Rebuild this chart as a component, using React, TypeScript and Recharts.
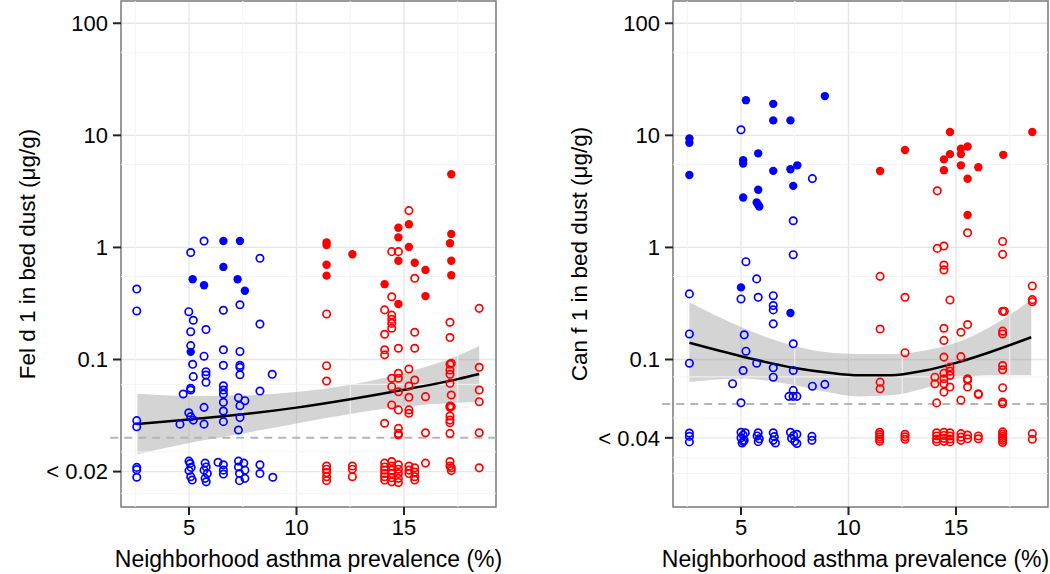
import React from 'react';
import {
  ComposedChart, Scatter, Line, Area,
  XAxis, YAxis, CartesianGrid, ReferenceLine, ReferenceArea, Label
} from 'recharts';

type Pt = [number, number];
type FitRow = [number, number, number, number]; // x, fit, lower, upper

const X_DOMAIN: [number, number] = [1.837, 19.28];
const Y_DOMAIN: [number, number] = [0.00483, 158];

const xTicks = [5, 10, 15];
const xMinor = [2.5, 7.5, 12.5, 17.5];
const xTitle = 'Neighborhood asthma prevalence (%)';

// ---- Fel d 1 panel ----
const felTicks = [0.01, 0.1, 1, 10, 100];
const felTickLabels = ['< 0.02', '0.1', '1', '10', '100'];
const felMinor = [55, 5.5, 0.55, 0.06, 0.015, 0.0064];
const felLimit = 0.02;

const felBlueOpen: Pt[] = [
  [2.57, 0.425], [2.57, 0.271], [2.57, 0.0285], [2.57, 0.0251],
  [5.7, 1.14], [5.08, 0.9], [8.3, 0.8],
  [4.99, 0.267], [5.2, 0.224], [5.08, 0.177], [5.79, 0.185], [6.6, 0.275], [7.37, 0.308], [8.3, 0.207],
  [5.08, 0.133], [5.7, 0.107], [5.17, 0.0906], [6.6, 0.122], [7.37, 0.118],
  [6.6, 0.0887], [7.37, 0.0887], [7.37, 0.0851], [7.37, 0.0731],
  [5.2, 0.0703], [5.79, 0.0778], [5.79, 0.0727], [5.79, 0.0626], [8.87, 0.0738],
  [5.08, 0.0553], [5.08, 0.0534], [4.73, 0.0492],
  [6.6, 0.0583], [6.6, 0.0534], [6.6, 0.0492], [6.6, 0.0415], [6.6, 0.0347], [6.6, 0.0279],
  [8.3, 0.0523], [7.3, 0.0456], [7.6, 0.0429], [7.37, 0.0387], [7.37, 0.0303], [7.3, 0.0235],
  [5.7, 0.0374], [5.7, 0.0265], [4.99, 0.0335], [5.08, 0.0309], [5.2, 0.0288], [4.58, 0.0265],
];
const felBlueLow: Pt[] = [
  [2.57, 0.0109], [2.57, 0.0104], [2.57, 0.0089],
  [5.0, 0.0124], [5.05, 0.0118], [5.1, 0.0109], [5.0, 0.0102], [5.08, 0.009], [5.15, 0.0084],
  [5.75, 0.0119], [5.8, 0.011], [5.7, 0.0103], [5.85, 0.0096], [5.75, 0.0087], [5.8, 0.0081],
  [6.35, 0.0121], [6.6, 0.0115], [6.6, 0.0103], [6.6, 0.0095],
  [7.3, 0.0124], [7.55, 0.0119], [7.3, 0.011], [7.6, 0.0103], [7.35, 0.0096], [7.6, 0.0087], [7.35, 0.0083],
  [8.3, 0.0115], [8.3, 0.0096], [8.9, 0.0089],
];
const felBlueFilled: Pt[] = [
  [6.6, 1.14], [7.37, 1.14], [6.6, 0.67], [5.17, 0.52], [5.7, 0.46], [7.26, 0.52], [7.6, 0.41], [5.08, 0.117],
];
const felRedOpen: Pt[] = [
  [11.4, 0.255], [11.4, 0.088], [11.4, 0.0643],
  [14.1, 0.277], [14.1, 0.168], [14.1, 0.122], [14.1, 0.11], [14.1, 0.027],
  [14.43, 0.917], [14.43, 0.363], [14.43, 0.249], [14.43, 0.228], [14.43, 0.21], [14.43, 0.19],
  [14.43, 0.068], [14.43, 0.0572], [14.43, 0.0393],
  [14.74, 0.917], [14.74, 0.126], [14.74, 0.0753], [14.74, 0.068], [14.74, 0.0516], [14.74, 0.0355],
  [14.74, 0.0243], [14.74, 0.0219], [14.74, 0.0212],
  [15.23, 2.13], [15.23, 0.0823], [15.23, 0.058], [15.23, 0.046], [15.23, 0.0355], [15.23, 0.0331],
  [15.5, 0.53], [15.5, 0.175], [15.5, 0.126], [15.5, 0.0656],
  [16.0, 0.0466], [16.0, 0.0222],
  [17.14, 0.215], [17.14, 0.157], [17.14, 0.0906], [17.14, 0.0805], [17.14, 0.0738], [17.14, 0.0612],
  [17.14, 0.0385], [17.14, 0.0374], [17.14, 0.0313], [17.14, 0.0288], [17.14, 0.0273], [17.14, 0.0219],
  [17.2, 0.0925], [17.2, 0.0482], [17.2, 0.038],
  [18.5, 0.286], [18.5, 0.0852], [18.5, 0.0534], [18.5, 0.042], [18.5, 0.0222],
];
const felRedLow: Pt[] = [
  [11.4, 0.0112], [11.4, 0.0105], [11.4, 0.0098], [11.4, 0.009], [11.4, 0.0083],
  [12.6, 0.0112], [12.6, 0.0105], [12.6, 0.009],
  [14.1, 0.0119], [14.1, 0.011], [14.1, 0.0103], [14.1, 0.0096], [14.1, 0.009], [14.1, 0.0084],
  [14.43, 0.0123], [14.43, 0.0112], [14.43, 0.0103], [14.43, 0.0096], [14.43, 0.0088], [14.43, 0.0081],
  [14.74, 0.0115], [14.74, 0.0105], [14.74, 0.0096], [14.74, 0.0087], [14.74, 0.008],
  [15.23, 0.0112], [15.23, 0.0103], [15.23, 0.0096],
  [15.5, 0.0108], [15.5, 0.0099], [15.5, 0.009], [15.5, 0.0084],
  [16.0, 0.0119],
  [17.14, 0.0123], [17.14, 0.0112], [17.2, 0.0108], [17.2, 0.0102],
  [18.5, 0.0108],
];
const felRedFilled: Pt[] = [
  [11.4, 1.11], [11.4, 1.05], [11.4, 0.7], [11.4, 0.56], [12.6, 0.87], [14.1, 0.47],
  [14.74, 1.5], [14.74, 1.23], [14.74, 0.76], [14.74, 0.313], [15.23, 1.61], [15.23, 1.01],
  [15.5, 0.73], [16.0, 0.63], [16.0, 0.368],
  [17.2, 4.5], [17.2, 1.32], [17.14, 1.09], [17.2, 0.76], [17.2, 0.564],
];
const felFit: FitRow[] = [
  [2.6, 0.0266, 0.0143, 0.0495],
  [5, 0.0292, 0.018, 0.0473],
  [7.5, 0.0324, 0.0219, 0.0479],
  [10, 0.0372, 0.0269, 0.0513],
  [12.5, 0.0442, 0.0327, 0.0596],
  [15, 0.0537, 0.038, 0.0759],
  [17.5, 0.0668, 0.0412, 0.108],
  [18.5, 0.0741, 0.0417, 0.132],
];

// ---- Can f 1 panel ----
const canTicks = [0.02, 0.1, 1, 10, 100];
const canTickLabels = ['< 0.04', '0.1', '1', '10', '100'];
const canMinor = [55, 5.5, 0.55, 0.07, 0.03, 0.0133, 0.0096];
const canLimit = 0.04;

const canBlueOpen: Pt[] = [
  [2.6, 0.385], [2.6, 0.169], [2.6, 0.0927], [4.61, 0.0608],
  [5.0, 11.2], [5.23, 0.746], [5.0, 0.347], [5.15, 0.166], [5.23, 0.1186], [5.1, 0.0798], [5.0, 0.0411],
  [5.73, 0.524], [5.8, 0.359], [5.73, 0.0927],
  [6.5, 0.371], [6.5, 0.303], [6.5, 0.277], [6.5, 0.208], [6.5, 0.0843], [6.5, 0.0695],
  [7.43, 1.73], [7.43, 0.861], [7.43, 0.138], [7.43, 0.0798], [7.43, 0.053],
  [7.23, 0.0469], [7.42, 0.0469], [7.6, 0.0469],
  [8.32, 4.11], [8.32, 0.0578], [8.9, 0.06],
];
const canBlueLow: Pt[] = [
  [2.6, 0.0221], [2.6, 0.0206], [2.6, 0.0184],
  [5.0, 0.0224], [5.1, 0.0212], [5.0, 0.02], [5.15, 0.019], [5.05, 0.018], [5.2, 0.0222], [5.1, 0.0186],
  [5.8, 0.0222], [5.75, 0.0208], [5.85, 0.0196], [5.8, 0.0185],
  [6.5, 0.0222], [6.55, 0.0205], [6.5, 0.019], [6.6, 0.018],
  [7.3, 0.0224], [7.45, 0.021], [7.35, 0.0198], [7.5, 0.0186], [7.6, 0.0178], [7.6, 0.0215],
  [8.3, 0.0206], [8.3, 0.019],
];
const canBlueFilled: Pt[] = [
  [2.6, 9.4], [2.6, 8.6], [2.6, 4.43], [5.23, 20.6], [5.1, 6.0], [5.1, 5.6], [5.1, 2.79], [5.0, 0.44],
  [5.8, 6.9], [5.8, 3.27], [5.73, 2.52], [5.8, 2.4], [5.85, 2.32],
  [6.5, 19.1], [6.5, 13.6], [6.5, 4.82], [7.3, 13.6], [7.3, 4.99], [7.43, 3.54], [7.3, 0.26],
  [7.62, 5.4], [8.9, 22.4],
];
const canRedOpen: Pt[] = [
  [11.47, 0.552], [11.47, 0.187], [11.47, 0.0628], [11.47, 0.0548],
  [12.63, 0.359], [12.63, 0.115],
  [14.13, 3.2], [14.13, 0.98], [14.1, 0.041], [14.02, 0.0695], [14.02, 0.0608],
  [14.44, 1.03], [14.44, 0.697], [14.44, 0.63], [14.44, 0.19], [14.44, 0.148], [14.44, 0.105],
  [14.44, 0.0755], [14.44, 0.0673], [14.44, 0.0608], [14.44, 0.0512],
  [14.72, 0.34], [14.72, 0.0855], [14.72, 0.0787], [14.72, 0.0721], [14.72, 0.0568],
  [15.23, 0.175], [15.23, 0.106], [15.23, 0.0434],
  [15.54, 1.35], [15.54, 0.205], [15.54, 0.0673], [15.54, 0.0568], [15.54, 0.0656],
  [16.04, 0.0495], [16.04, 0.0488],
  [17.17, 1.13], [17.17, 0.867], [17.17, 0.269], [17.17, 0.179], [17.17, 0.169], [17.17, 0.0884],
  [17.17, 0.081], [17.17, 0.056], [17.17, 0.0417], [17.17, 0.0403], [17.25, 0.269],
  [18.55, 0.453], [18.55, 0.342], [18.55, 0.328],
];
const canRedLow: Pt[] = [
  [11.45, 0.0224], [11.45, 0.0214], [11.45, 0.0204], [11.45, 0.0195], [11.45, 0.0186],
  [12.63, 0.0215], [12.63, 0.0204], [12.63, 0.0194],
  [14.1, 0.0222], [14.1, 0.0208], [14.1, 0.0195], [14.1, 0.0185],
  [14.44, 0.0224], [14.44, 0.021], [14.44, 0.0198], [14.44, 0.0186],
  [14.72, 0.0222], [14.72, 0.0208], [14.72, 0.0195], [14.72, 0.0184],
  [15.23, 0.0218], [15.23, 0.0203], [15.23, 0.019],
  [15.54, 0.0212], [15.54, 0.0196],
  [16.04, 0.0208], [16.04, 0.0196],
  [17.17, 0.0226], [17.17, 0.0216], [17.17, 0.0206], [17.17, 0.0198], [17.17, 0.019], [17.17, 0.0182],
  [18.55, 0.0218], [18.55, 0.0194],
];
const canRedFilled: Pt[] = [
  [11.47, 4.8], [12.63, 7.4], [14.44, 6.1], [14.44, 4.89], [14.72, 10.7], [14.72, 6.8],
  [15.23, 7.6], [15.23, 6.8], [15.23, 5.4], [15.54, 7.94], [15.54, 4.1], [15.54, 1.95],
  [16.04, 5.2], [17.2, 6.7], [18.55, 10.7],
];
const canFit: FitRow[] = [
  [2.6, 0.141, 0.063, 0.324],
  [5, 0.107, 0.0676, 0.195],
  [7.5, 0.0841, 0.0589, 0.132],
  [9, 0.0767, 0.0513, 0.116],
  [10.5, 0.0724, 0.0468, 0.112],
  [12, 0.0724, 0.0479, 0.112],
  [13.5, 0.0794, 0.055, 0.12],
  [15, 0.0933, 0.0676, 0.141],
  [16.5, 0.115, 0.0724, 0.191],
  [18.5, 0.158, 0.0724, 0.339],
];

const BLUE = '#0000ff';
const RED = '#ff0000';
const FONT = '"Liberation Sans", Arial, Helvetica, sans-serif';

const toPts = (a: Pt[]) => a.map(([x, y]) => ({ x, y }));

const openDot = (color: string) => (p: any) => (
  <circle cx={p.cx} cy={p.cy} r={3.7} fill="none" stroke={color} strokeWidth={1.7} />
);
const filledDot = (color: string) => (p: any) => (
  <circle cx={p.cx} cy={p.cy} r={4.2} fill={color} stroke="none" />
);

interface PanelProps {
  left: number;
  width: number;
  right: number;
  yTitle: string;
  titleDx: number;
  ticks: number[];
  tickLabels: string[];
  minor: number[];
  limit: number;
  blueOpen: Pt[];
  blueLow: Pt[];
  blueFilled: Pt[];
  redOpen: Pt[];
  redLow: Pt[];
  redFilled: Pt[];
  fit: FitRow[];
}

function Panel(props: PanelProps) {
  const { left, width, right, yTitle, titleDx, ticks, tickLabels, minor, limit } = props;
  const fitData = props.fit.map(([x, y, lo, hi]) => ({ x, y, lo, hi }));
  const tickStyle = { fill: '#000', fontSize: 22, fontFamily: FONT };

  return (
    <div style={{ position: 'absolute', left, top: 0 }}>
      <ComposedChart width={width} height={574} margin={{ top: 1, right, bottom: 0, left: 0 }}>
        <CartesianGrid stroke="#e6e6e6" strokeWidth={1.3} />
        {xMinor.map(v => (
          <ReferenceLine key={'vx' + v} x={v} stroke="#f4f4f4" strokeWidth={1} />
        ))}
        {minor.map(v => (
          <ReferenceLine key={'hy' + v} y={v} stroke="#f4f4f4" strokeWidth={1} />
        ))}
        <XAxis
          type="number" dataKey="x" domain={X_DOMAIN} ticks={xTicks} allowDataOverflow
          height={67} axisLine={false} tickSize={8} tickMargin={4}
          tickLine={{ stroke: '#222', strokeWidth: 2 }} tick={tickStyle}
        >
          <Label value={xTitle} position="insideBottom" offset={7} dx={titleDx}
            style={{ fontSize: 23, fontFamily: FONT, fill: '#000' }} />
        </XAxis>
        <YAxis
          type="number" scale="log" domain={Y_DOMAIN} ticks={ticks} allowDataOverflow
          width={121} axisLine={false} tickSize={8} tickMargin={5}
          tickLine={{ stroke: '#222', strokeWidth: 2 }} tick={tickStyle}
          tickFormatter={(v: number) => tickLabels[ticks.indexOf(v)] ?? String(v)}
        >
          <Label value={yTitle} angle={-90} position="insideLeft" offset={27}
            style={{ fontSize: 22.5, fontFamily: FONT, fill: '#000', textAnchor: 'middle' }} />
        </YAxis>

        <Area data={fitData} dataKey={(d: any) => [d.lo, d.hi]} type="monotone"
          fill="#999999" fillOpacity={0.42} stroke="none" isAnimationActive={false} />
        <ReferenceLine
          segment={[{ x: X_DOMAIN[0] - 0.5, y: limit }, { x: X_DOMAIN[1], y: limit }]}
          ifOverflow="visible" stroke="#b5b5b5" strokeWidth={2} strokeDasharray="8 6" />

        <Scatter data={toPts(props.blueOpen)} dataKey="y" shape={openDot(BLUE)} isAnimationActive={false} />
        <Scatter data={toPts(props.blueLow)} dataKey="y" shape={openDot(BLUE)} isAnimationActive={false} />
        <Scatter data={toPts(props.blueFilled)} dataKey="y" shape={filledDot(BLUE)} isAnimationActive={false} />
        <Scatter data={toPts(props.redOpen)} dataKey="y" shape={openDot(RED)} isAnimationActive={false} />
        <Scatter data={toPts(props.redLow)} dataKey="y" shape={openDot(RED)} isAnimationActive={false} />
        <Scatter data={toPts(props.redFilled)} dataKey="y" shape={filledDot(RED)} isAnimationActive={false} />

        <Line data={fitData} dataKey="y" type="monotone" stroke="#000" strokeWidth={2.5}
          dot={false} activeDot={false} isAnimationActive={false} />

        <ReferenceArea x1={X_DOMAIN[0]} x2={X_DOMAIN[1]} y1={Y_DOMAIN[0]} y2={Y_DOMAIN[1]}
          ifOverflow="visible" fill="none" fillOpacity={0} stroke="#7f7f7f" strokeWidth={1.5} />
      </ComposedChart>
    </div>
  );
}

export default function App() {
  return (
    <div style={{ position: 'absolute', left: 0, top: 0, width: 1050, height: 574, background: '#fff', overflow: 'hidden' }}>
      <Panel
        left={0} width={520} right={24} titleDx={0}
        yTitle="Fel d 1 in bed dust (μg/g)"
        ticks={felTicks} tickLabels={felTickLabels} minor={felMinor} limit={felLimit}
        blueOpen={felBlueOpen} blueLow={felBlueLow} blueFilled={felBlueFilled}
        redOpen={felRedOpen} redLow={felRedLow} redFilled={felRedFilled}
        fit={felFit}
      />
      <Panel
        left={552} width={498} right={2} titleDx={-5}
        yTitle="Can f 1 in bed dust (μg/g)"
        ticks={canTicks} tickLabels={canTickLabels} minor={canMinor} limit={canLimit}
        blueOpen={canBlueOpen} blueLow={canBlueLow} blueFilled={canBlueFilled}
        redOpen={canRedOpen} redLow={canRedLow} redFilled={canRedFilled}
        fit={canFit}
      />
    </div>
  );
}
